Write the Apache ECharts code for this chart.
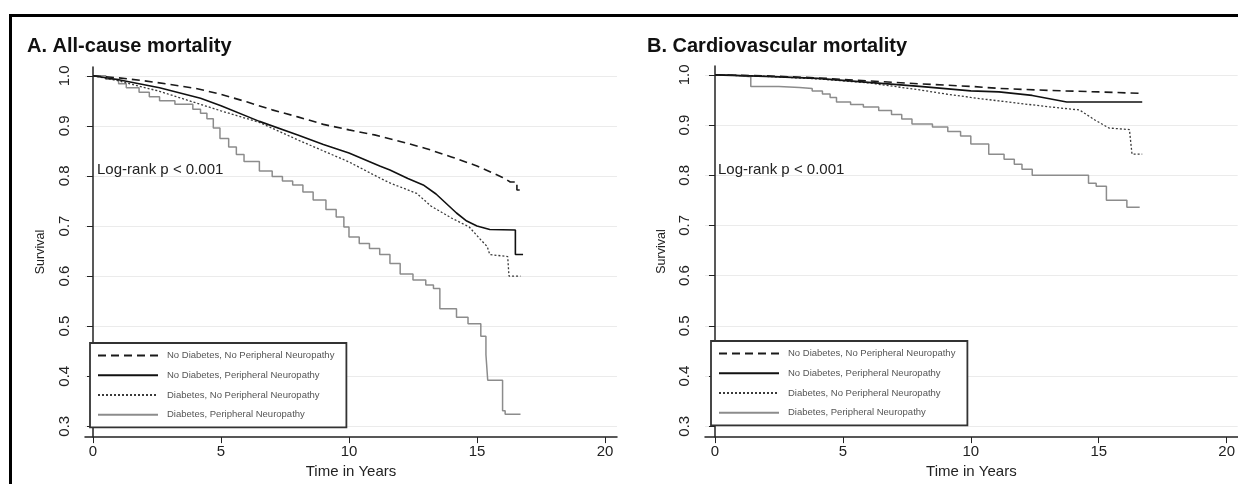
<!DOCTYPE html>
<html>
<head>
<meta charset="utf-8">
<style>
  html, body { margin: 0; padding: 0; background: #fff; }
  #main { width: 1238px; height: 484px; }
</style>
<script src="https://cdn.jsdelivr.net/npm/echarts@6/dist/echarts.min.js"></script>
</head>
<body>
<div id="main"></div>
<script>
// group names (legend)
const groups = [
  'No Diabetes, No Peripheral Neuropathy',
  'No Diabetes, Peripheral Neuropathy',
  'Diabetes, No Peripheral Neuropathy',
  'Diabetes, Peripheral Neuropathy'
]
const yTicks = [0.3, 0.4, 0.5, 0.6, 0.7, 0.8, 0.9, 1.0]
const xTicks = [0, 5, 10, 15, 20]

// A. all-cause mortality, [years, survival]
const allNoDmNoPn = [[0, 1], [1, 0.996], [2, 0.99], [3, 0.983], [4, 0.975], [5, 0.963], [6, 0.948], [7, 0.932],
  [8, 0.918], [9, 0.903], [10, 0.892], [11, 0.882], [12, 0.869], [13, 0.855], [14, 0.838], [15, 0.82],
  [16, 0.797], [16.3, 0.788], [16.56, 0.788], [16.56, 0.772], [16.7, 0.772]]
const allNoDmPn = [[0, 1], [1, 0.992], [2.6, 0.976], [4.2, 0.955], [5, 0.94], [6.5, 0.909], [8, 0.882], [9, 0.863],
  [10, 0.846], [11.2, 0.82], [11.6, 0.812], [12.3, 0.795], [12.9, 0.782], [13.4, 0.764], [13.8, 0.745],
  [14.2, 0.726], [14.6, 0.71], [15, 0.7], [15.5, 0.693], [16.5, 0.692], [16.5, 0.643], [16.8, 0.643]]
const allDmNoPn = [[0, 1], [1, 0.99], [2.6, 0.969], [4.2, 0.943], [5, 0.93], [6.5, 0.907], [8, 0.872], [9, 0.85],
  [10, 0.828], [11.2, 0.796], [11.6, 0.786], [12.65, 0.765], [13.2, 0.74], [14, 0.716], [14.7, 0.698],
  [15.1, 0.675], [15.4, 0.659], [15.5, 0.643], [16.2, 0.639], [16.25, 0.6], [16.7, 0.6]]
const allDmPn = [[0, 1], [0.5, 0.993], [1, 0.984], [1.3, 0.976], [1.8, 0.967], [2.2, 0.958], [2.6, 0.95],
  [3.2, 0.943], [3.9, 0.933], [4.2, 0.925], [4.45, 0.914], [4.7, 0.896], [4.96, 0.875], [5.3, 0.858],
  [5.6, 0.843], [5.9, 0.829], [6.5, 0.81], [7, 0.799], [7.4, 0.79], [7.8, 0.782], [8.2, 0.768], [8.6, 0.752],
  [9.1, 0.733], [9.5, 0.718], [9.8, 0.698], [10, 0.678], [10.4, 0.665], [10.8, 0.655], [11.2, 0.643],
  [11.6, 0.625], [12, 0.604], [12.5, 0.592], [13, 0.582], [13.3, 0.575], [13.55, 0.535], [14.2, 0.518],
  [14.65, 0.505], [15.15, 0.48], [15.35, 0.443], [15.42, 0.392], [16, 0.331], [16.1, 0.324], [16.7, 0.324]]

// B. cardiovascular mortality, [years, survival]
const cvNoDmNoPn = [[0, 1], [2, 0.998], [4, 0.994], [6, 0.988], [8, 0.982], [10, 0.977], [11.1, 0.973],
  [13, 0.969], [15, 0.966], [16.7, 0.963]]
const cvNoDmPn = [[0, 1], [2, 0.997], [4, 0.993], [6, 0.985], [8, 0.977], [10, 0.968], [11.1, 0.966],
  [12.4, 0.959], [13.75, 0.946], [16.7, 0.946]]
const cvDmNoPn = [[0, 1], [2, 0.997], [4, 0.992], [6, 0.984], [8, 0.97], [9, 0.962], [10, 0.955], [11.1, 0.948],
  [13.1, 0.936], [14.25, 0.93], [14.85, 0.91], [15.4, 0.894], [16.2, 0.891], [16.3, 0.842], [16.7, 0.842]]
const cvDmPn = [[0, 1], [0.5, 0.998], [1, 0.996], [1.4, 0.977], [2.5, 0.975], [3.3, 0.973], [3.8, 0.968],
  [4.2, 0.962], [4.5, 0.955], [4.75, 0.946], [5.3, 0.941], [5.8, 0.936], [6.4, 0.929], [6.9, 0.921],
  [7.3, 0.912], [7.7, 0.902], [8.5, 0.896], [9.1, 0.887], [9.6, 0.878], [10, 0.862], [10.7, 0.842],
  [11.3, 0.832], [11.7, 0.822], [12, 0.812], [12.4, 0.8], [14.6, 0.784], [14.9, 0.778], [15.3, 0.75],
  [16.1, 0.736], [16.6, 0.736]]

const font = 'Liberation Sans, Arial, sans-serif'
const styles = [
  { color: '#1a1a1a', width: 1.6, type: [8, 5], step: false },
  { color: '#111111', width: 1.6, type: 'solid', step: false },
  { color: '#3a3a3a', width: 1.3, type: [2, 2], step: false },
  { color: '#8c8c8c', width: 1.5, type: 'solid', step: 'end' }
]

function makeSeries (sets, idx) {
  return sets.map(function (d, i) {
    return {
      name: groups[i],
      type: 'line',
      xAxisIndex: idx,
      yAxisIndex: idx,
      data: d,
      step: styles[i].step,
      symbol: 'none',
      showSymbol: false,
      z: 10 - i,
      lineStyle: { color: styles[i].color, width: styles[i].width, type: styles[i].type },
      itemStyle: { color: styles[i].color }
    }
  })
}

function xAxis (gridIndex, min, max) {
  return {
    type: 'value',
    gridIndex: gridIndex,
    min: min,
    max: max,
    name: 'Time in Years',
    nameLocation: 'middle',
    nameGap: 22,
    nameTextStyle: { fontFamily: font, fontSize: 15, color: '#222' },
    axisLine: { lineStyle: { color: '#222', width: 1.5 } },
    axisTick: { show: true, length: 6, customValues: xTicks, lineStyle: { color: '#222' } },
    axisLabel: { customValues: xTicks, fontFamily: font, fontSize: 15, color: '#222', margin: 7 },
    splitLine: { show: false }
  }
}

function yAxis (gridIndex, nameGap) {
  return {
    type: 'value',
    gridIndex: gridIndex,
    min: 0.2784,
    max: 1.0176,
    name: 'Survival',
    nameLocation: 'middle',
    nameGap: nameGap,
    nameTextStyle: { fontFamily: font, fontSize: 12.5, color: '#222' },
    axisLine: { show: true, lineStyle: { color: '#222', width: 1.5 } },
    axisTick: { show: true, length: 6, customValues: yTicks, lineStyle: { color: '#222' } },
    axisLabel: {
      customValues: yTicks,
      rotate: 90,
      fontFamily: font,
      fontSize: 15,
      color: '#222',
      margin: 13,
      formatter: function (v) { return v.toFixed(1) }
    },
    splitLine: { show: true, lineStyle: { color: '#ebebeb', width: 1.2 } }
  }
}

function legend (left, top) {
  return {
    data: groups,
    orient: 'vertical',
    left: left,
    top: top,
    itemWidth: 60,
    itemHeight: 14,
    itemGap: 8.5,
    padding: [7, 12, 7, 7],
    borderColor: '#333',
    borderWidth: 1.8,
    backgroundColor: '#fff',
    selectedMode: false,
    itemStyle: { opacity: 0 },
    textStyle: { fontFamily: font, fontSize: 9.5, color: '#555', padding: [0, 0, 0, 4] }
  }
}

const chart = echarts.init(document.getElementById('main'))
chart.setOption({
  animation: false,
  backgroundColor: '#fff',
  title: [
    { text: 'A. All-cause mortality', left: 22, top: 31,
      textStyle: { fontFamily: font, fontSize: 20, fontWeight: 'bold', color: '#111' } },
    { text: 'B. Cardiovascular mortality', left: 642, top: 31,
      textStyle: { fontFamily: font, fontSize: 20, fontWeight: 'bold', color: '#111' } },
    { text: 'Log-rank p < 0.001', left: 92, top: 157,
      textStyle: { fontFamily: font, fontSize: 15, fontWeight: 'normal', color: '#222' } },
    { text: 'Log-rank p < 0.001', left: 713, top: 157,
      textStyle: { fontFamily: font, fontSize: 15, fontWeight: 'normal', color: '#222' } }
  ],
  grid: [
    { left: 85, top: 67, width: 532, height: 377 },
    { left: 705, top: 66, width: 533, height: 377 }
  ],
  xAxis: [xAxis(0, -0.3125, 20.47), xAxis(1, -0.39, 20.43)],
  yAxis: [yAxis(0, 38), yAxis(1, 37)],
  legend: [legend(90, 343), legend(711, 341)],
  graphic: [
    { type: 'rect', shape: { x: 10.5, y: 15.5, width: 1240, height: 480 },
      style: { fill: 'none', stroke: '#000', lineWidth: 3 }, silent: true, z: 100 }
  ],
  series: makeSeries([allNoDmNoPn, allNoDmPn, allDmNoPn, allDmPn], 0)
    .concat(makeSeries([cvNoDmNoPn, cvNoDmPn, cvDmNoPn, cvDmPn], 1))
})
</script>
</body>
</html>
